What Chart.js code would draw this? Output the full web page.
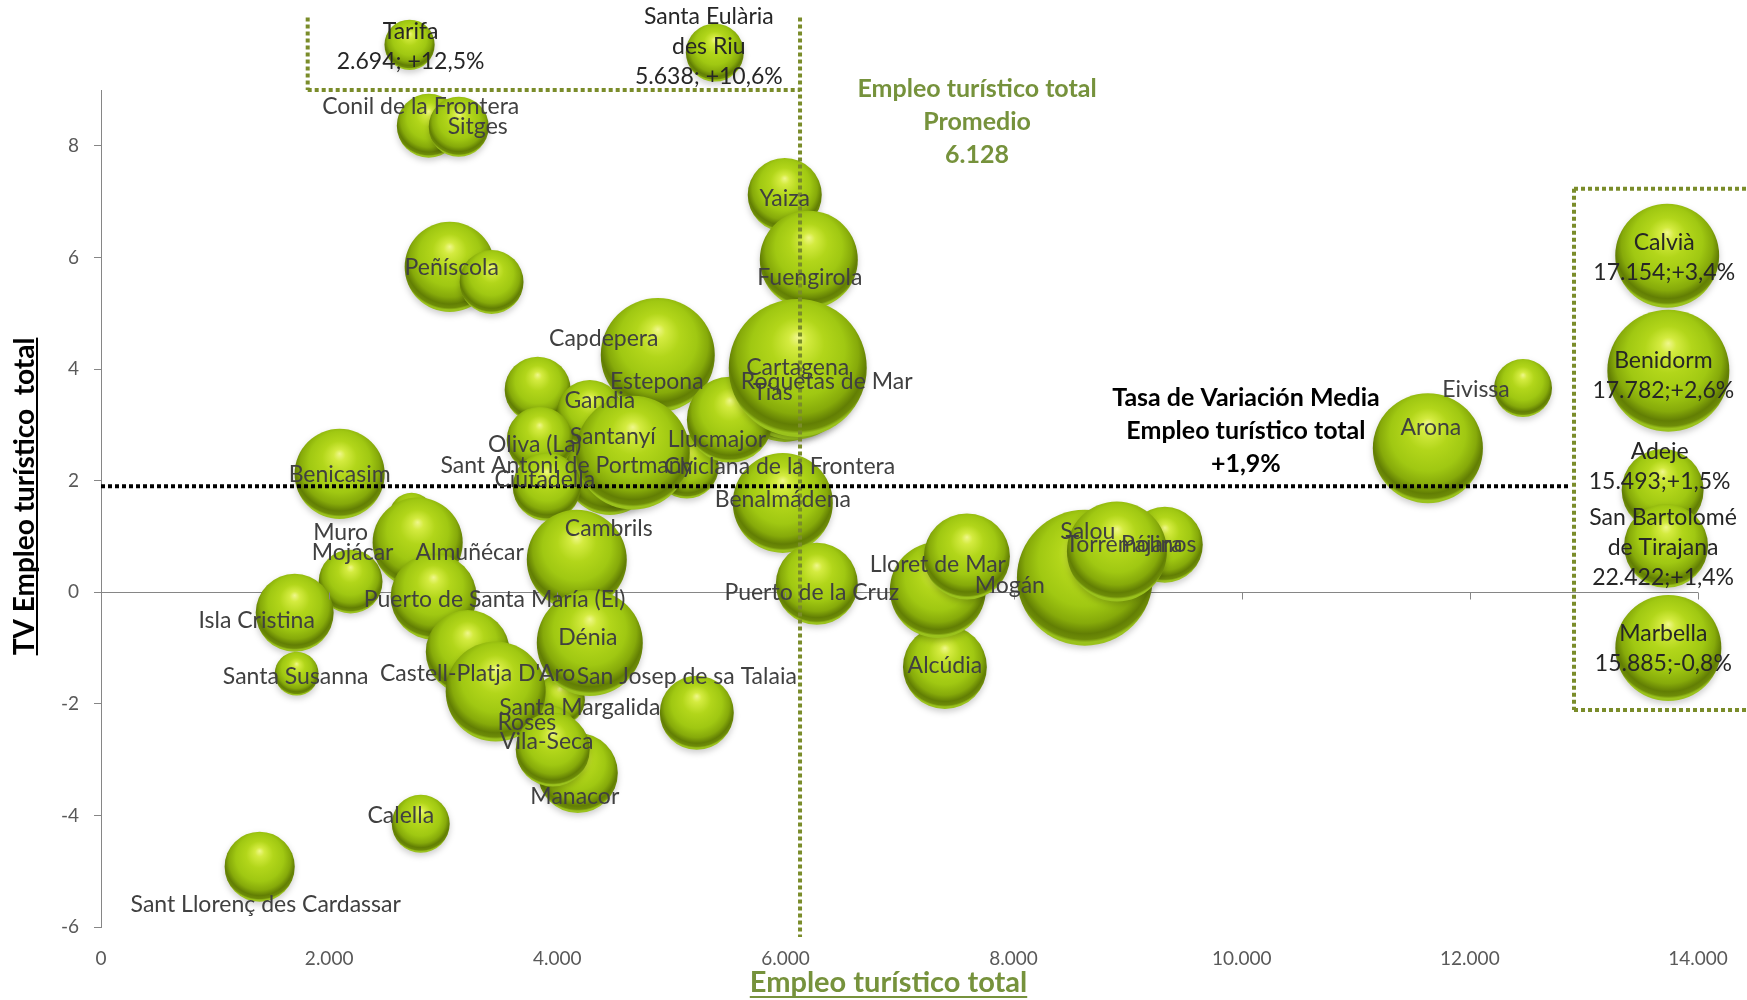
<!DOCTYPE html>
<html>
<head>
<meta charset="utf-8">
<title>Empleo turístico total</title>
<script src="https://cdn.jsdelivr.net/npm/chart.js@4/dist/chart.umd.min.js"></script>
<style>
	html, body { margin: 0; padding: 0; background: #ffffff; }
	#grafico { display: block; }
</style>
</head>
<body>
<canvas id="grafico" width="1747" height="1000"></canvas>
<script>
// Municipios dentro del rango del gráfico (orden de dibujo: los de atrás primero)
var municipios = [
	"Capdepera", "Tías", "Roquetas de Mar", "Sant Antoni de Portmany", "Chiclana de la Frontera",
	"Santa Margalida", "Roses", "Muro", "Conil de la Frontera", "Sitges",
	"Peñíscola", "", "Yaiza", "Fuengirola", "Estepona",
	"Llucmajor", "Cartagena", "", "Gandia", "Oliva (La)",
	"Ciutadella", "Santanyí", "Benalmádena", "Benicasim", "Mojácar",
	"Almuñécar", "Puerto de Santa María (El)", "Cambrils", "Isla Cristina", "Santa Susanna",
	"", "Castell-Platja D'Aro", "Dénia", "San Josep de sa Talaia", "Manacor",
	"Vila-Seca", "Calella", "Sant Llorenç des Cardassar", "Puerto de la Cruz", "Alcúdia",
	"Mogán", "Lloret de Mar", "Salou", "Pájara", "Torremolinos",
	"Arona", "Eivissa"
];
var empleoTuristico = [
	4723, 5995, 6064, 4460, 5135,
	4022, 3917, 2723, 2873, 3136,
	3057, 3424, 5994, 6205, 4881,
	5513, 6108, 3828, 4285, 3846,
	3908, 4662, 5977, 2092, 2188,
	2776, 2916, 4171, 1698, 1715,
	3215, 3460, 4285, 5223, 4180,
	3960, 2803, 1391, 6275, 7398,
	7336, 7591, 8625, 9326, 8906,
	11632, 12466
];
var tvEmpleo = [
	4.34, 3.59, 3.86, 2.19, 2.25,
	-1.93, -2.56, 1.39, 8.36, 8.34,
	5.83, 5.56, 7.12, 5.96, 4.25,
	3.09, 4.02, 3.63, 3.21, 2.73,
	1.89, 2.50, 1.60, 2.12, 0.19,
	0.89, -0.08, 0.58, -0.37, -1.46,
	-1.07, -1.78, -0.91, -2.16, -3.24,
	-2.82, -4.15, -4.92, 0.15, -1.34,
	0.04, 0.64, 0.26, 0.85, 0.73,
	2.58, 3.66
];
// tamaño relativo de la burbuja (proporcional al área)
var tamanoBurbuja = [
	12.3, 25.0, 39.7, 20.3, 10.2,
	6.3, 9.0, 4.8, 10.2, 9.0,
	20.3, 10.2, 13.7, 24.0, 32.5,
	18.5, 47.6, 10.9, 10.9, 10.9,
	11.6, 32.5, 25.0, 20.3, 10.2,
	20.3, 18.5, 25.0, 15.2, 4.8,
	17.6, 25.0, 28.1, 13.7, 16.0,
	13.7, 8.4, 12.3, 16.8, 17.6,
	23.0, 18.5, 46.2, 14.4, 25.0,
	30.3, 8.4
];

// Municipios fuera de rango, recolocados en los recuadros
var destacados = ["Tarifa", "Santa Eulària des Riu", "Calvià", "Benidorm", "Adeje", "San Bartolomé de Tirajana", "Marbella"];
var empleoDestacados = [2694, 5638, 17154, 17782, 15493, 22422, 15885];
var tvDestacados = [12.5, 10.6, 3.4, 2.6, 1.5, 1.4, -0.8];
var posXDestacados = [2705, 5381, 13730, 13740, 13690, 13720, 13740];
var posYDestacados = [9.81, 9.67, 6.03, 3.97, 1.83, 0.83, -1.0];
var tamanoDestacados = [6.3, 8.4, 27.0, 37.2, 16.8, 17.6, 28.1];

var promedioEmpleo = 6128;
var tasaMedia = 1.9;

var ticksX = { min: 0, max: 14000, paso: 2000 };
var ticksY = { min: -6, max: 9, paso: 2 };

// ---- maquetación (no son datos) ----
var desplazamientos = {
	"Capdepera": [-36, -11], "Tías": [-12, 1], "Roquetas de Mar": [34, 5],
	"Sant Antoni de Portmany": [-43, -4], "Chiclana de la Frontera": [93, 0],
	"Santa Margalida": [20, 8], "Roses": [-21, -12], "Muro": [-71, 18],
	"Conil de la Frontera": [-8, -19], "Sitges": [19, 0], "Peñíscola": [2, 1],
	"Yaiza": [0, 4], "Fuengirola": [1, 18], "Estepona": [-1, 27],
	"Llucmajor": [-13, 20], "Cartagena": [0, 0], "Gandia": [10, -13],
	"Oliva (La)": [-5, 5], "Ciutadella": [-2, -7], "Santanyí": [-20, -16],
	"Benalmádena": [0, -3], "Benicasim": [0, 1], "Mojácar": [2, -29],
	"Almuñécar": [52, 10], "Puerto de Santa María (El)": [61, 3], "Cambrils": [32, -31],
	"Isla Cristina": [-38, 8], "Santa Susanna": [-1, 3], "Castell-Platja D'Aro": [-18, -18],
	"Dénia": [-2, -5], "San Josep de sa Talaia": [-10, -36], "Manacor": [-3, 24],
	"Vila-Seca": [-6, -8], "Calella": [-20, -8], "Sant Llorenç des Cardassar": [6, 38],
	"Puerto de la Cruz": [-5, 9], "Alcúdia": [0, -1], "Mogán": [72, -4],
	"Lloret de Mar": [-29, 8], "Salou": [3, -46], "Pájara": [-13, 0],
	"Torremolinos": [14, -7], "Arona": [3, -21], "Eivissa": [-47, 2],
	"Tarifa": [1, 2], "Santa Eulària des Riu": [-6, -6], "Calvià": [-3, 2],
	"Benidorm": [-5, 5], "Adeje": [-3, -24], "San Bartolomé de Tirajana": [-3, 2],
	"Marbella": [-5, 1]
};
var lineasNombre = {
	"Santa Eulària des Riu": ["Santa Eulària", "des Riu"],
	"San Bartolomé de Tirajana": ["San Bartolomé", "de Tirajana"]
};

var FUENTE = "Lato, 'Open Sans', sans-serif";
var OLIVA = "#7a8c2a";
var VERDE_TEXTO = "#76923c";

var formatMiles = function (n) {
	return String(Math.round(n)).replace(/\B(?=(\d{3})+(?!\d))/g, ".");
};

var formatTasa = function (v) {
	return (v > 0 ? "+" : "") + v.toFixed(1).replace(".", ",") + "%";
};

var radio = function (t) {
	return 10 * Math.sqrt(t);
};

// degradado esférico parecido al de las burbujas 3D de Excel
var colorBurbuja = function (context) {
	var chart = context.chart;
	var raw = context.raw;
	if (!raw || !chart.scales.x || !chart.scales.y) {
		return "#9cc400";
	}
	var cx = chart.scales.x.getPixelForValue(raw.x);
	var cy = chart.scales.y.getPixelForValue(raw.y);
	var r = raw.r;
	if (!isFinite(cx) || !isFinite(cy) || !isFinite(r) || r <= 0) {
		return "#9cc400";
	}
	var g = chart.ctx.createRadialGradient(cx, cy - r * 0.45, 0, cx, cy - r * 0.15, r * 1.1);
	g.addColorStop(0, "#f0f78c");
	g.addColorStop(0.12, "#d4eb40");
	g.addColorStop(0.35, "#b2d61a");
	g.addColorStop(0.62, "#a0c812");
	g.addColorStop(0.8, "#86aa0a");
	g.addColorStop(0.91, "#627e04");
	g.addColorStop(0.97, "#6e8c08");
	g.addColorStop(1, "#9ac21c");
	return g;
};

var puntos = municipios.map(function (n, i) {
	return { x: empleoTuristico[i], y: tvEmpleo[i], r: radio(tamanoBurbuja[i]) };
});

var puntosDestacados = destacados.map(function (n, i) {
	return { x: posXDestacados[i], y: posYDestacados[i], r: radio(tamanoDestacados[i]) };
});

var lineaPunteada = function (ctx, x1, y1, x2, y2, color) {
	ctx.beginPath();
	ctx.strokeStyle = color;
	ctx.lineWidth = 4;
	ctx.setLineDash([4, 3]);
	ctx.moveTo(x1, y1);
	ctx.lineTo(x2, y2);
	ctx.stroke();
};

var sombras = {
	id: "sombras",
	beforeDatasetsDraw: function (chart) {
		var ctx = chart.ctx;
		ctx.save();
		ctx.shadowColor = "rgba(0, 0, 0, 0.2)";
		ctx.shadowBlur = 6;
		ctx.shadowOffsetY = 3;
	},
	afterDatasetsDraw: function (chart) {
		chart.ctx.restore();
	}
};

// las burbujas recolocadas quedan fuera del área: se amplía el área solo mientras se dibujan
var fueraDeArea = {
	id: "fueraDeArea",
	beforeDatasetDraw: function (chart, args) {
		if (args.index === 1) {
			this._area = { top: chart.chartArea.top, right: chart.chartArea.right };
			chart.chartArea.top = 0;
			chart.chartArea.right = chart.width;
		}
	},
	afterDatasetDraw: function (chart, args) {
		if (args.index === 1 && this._area) {
			chart.chartArea.top = this._area.top;
			chart.chartArea.right = this._area.right;
		}
	}
};

var anotaciones = {
	id: "anotaciones",
	afterDatasetsDraw: function (chart) {
		var ctx = chart.ctx;
		var x = chart.scales.x;
		var y = chart.scales.y;
		var area = chart.chartArea;

		ctx.save();

		// marcas del eje horizontal sobre la línea del cero
		ctx.strokeStyle = "#868686";
		ctx.lineWidth = 1;
		ctx.setLineDash([]);
		x.ticks.forEach(function (t) {
			var px = Math.round(x.getPixelForValue(t.value)) + 0.5;
			var y0 = Math.round(y.getPixelForValue(0)) + 0.5;
			ctx.beginPath();
			ctx.moveTo(px, y0);
			ctx.lineTo(px, y0 + 7);
			ctx.stroke();
		});

		var cajaDerX = x.getPixelForValue(12913);
		var cajaArr = y.getPixelForValue(10.3);

		// promedio empleo y recuadro superior
		var pxProm = x.getPixelForValue(promedioEmpleo);
		lineaPunteada(ctx, pxProm, cajaArr, pxProm, area.bottom + 10, OLIVA);
		var pxCaja = x.getPixelForValue(1812);
		lineaPunteada(ctx, pxCaja, cajaArr, pxCaja, y.getPixelForValue(9), OLIVA);
		lineaPunteada(ctx, pxCaja, y.getPixelForValue(9), pxProm, y.getPixelForValue(9), OLIVA);

		// tasa media
		var pyTasa = y.getPixelForValue(tasaMedia);
		lineaPunteada(ctx, x.getPixelForValue(0), pyTasa, cajaDerX - 3, pyTasa, "#000000");

		// recuadro derecho
		var top = y.getPixelForValue(7.23);
		var bot = y.getPixelForValue(-2.11);
		lineaPunteada(ctx, cajaDerX, top, cajaDerX, bot, OLIVA);
		lineaPunteada(ctx, cajaDerX, top, chart.width, top, OLIVA);
		lineaPunteada(ctx, cajaDerX, bot, chart.width, bot, OLIVA);

		ctx.setLineDash([]);
		ctx.textAlign = "center";
		ctx.textBaseline = "middle";

		// textos de promedio
		ctx.font = "bold 25px " + FUENTE;
		ctx.fillStyle = VERDE_TEXTO;
		var tx = x.getPixelForValue(7680);
		["Empleo turístico total", "Promedio", formatMiles(promedioEmpleo)].forEach(function (l, i) {
			ctx.fillText(l, tx, 89 + i * 33);
		});
		ctx.fillStyle = "#000000";
		var tx2 = x.getPixelForValue(10037);
		["Tasa de Variación Media", "Empleo turístico total", formatTasa(tasaMedia)].forEach(function (l, i) {
			ctx.fillText(l, tx2, 398 + i * 33);
		});

		// etiquetas de las burbujas
		ctx.font = "23px " + FUENTE;
		ctx.fillStyle = "#404040";
		chart.getDatasetMeta(0).data.forEach(function (el, i) {
			var n = municipios[i];
			if (!n) {
				return;
			}
			var d = desplazamientos[n] || [0, 0];
			ctx.fillText(n, el.x + d[0], el.y + d[1]);
		});

		ctx.fillStyle = "#262626";
		chart.getDatasetMeta(1).data.forEach(function (el, i) {
			var n = destacados[i];
			var sep = i < 2 ? " " : "";
			var lineas = (lineasNombre[n] || [n]).concat([formatMiles(empleoDestacados[i]) + ";" + sep + formatTasa(tvDestacados[i])]);
			var d = desplazamientos[n] || [0, 0];
			var y0 = el.y + d[1] - (lineas.length - 1) * 30 / 2;
			lineas.forEach(function (l, k) {
				ctx.fillText(l, el.x + d[0], y0 + k * 30);
			});
		});

		ctx.restore();
	},
	afterDraw: function (chart) {
		var ctx = chart.ctx;
		var area = chart.chartArea;
		ctx.save();
		ctx.textAlign = "center";
		ctx.textBaseline = "middle";

		// título eje Y
		var ty = "TV Empleo turístico  total";
		ctx.font = "bold 28px " + FUENTE;
		ctx.fillStyle = "#000000";
		ctx.translate(25, area.top + (area.bottom - area.top) / 2 - 12);
		ctx.rotate(-Math.PI / 2);
		ctx.fillText(ty, 0, 0);
		var w = ctx.measureText(ty).width;
		ctx.fillRect(-w / 2, 11, w, 2);
		ctx.setTransform(1, 0, 0, 1, 0, 0);

		// título eje X
		var tx = "Empleo turístico total";
		ctx.font = "bold 29px " + FUENTE;
		ctx.fillStyle = VERDE_TEXTO;
		var cx = (area.left + area.right) / 2 - 11;
		ctx.fillText(tx, cx, 983);
		var w2 = ctx.measureText(tx).width;
		ctx.fillRect(cx - w2 / 2, 996, w2, 2);
		ctx.restore();
	}
};

var dibujar = function () {
	new Chart(document.getElementById("grafico"), {
		type: "bubble",
		data: {
			datasets: [
				{
					label: "Municipios",
					data: puntos,
					backgroundColor: colorBurbuja,
					borderWidth: 0,
					clip: false,
				},
				{
					label: "Destacados",
					data: puntosDestacados,
					backgroundColor: colorBurbuja,
					borderWidth: 0,
					clip: false,
				},
			],
		},
		options: {
			responsive: false,
			animation: false,
			events: [],
			devicePixelRatio: 1,
			layout: {
				autoPadding: false,
				padding: { top: 90, right: 49, bottom: 0, left: 0 },
			},
			plugins: {
				legend: { display: false },
				tooltip: { enabled: false },
			},
			scales: {
				x: {
					type: "linear",
					min: ticksX.min,
					max: ticksX.max,
					border: { display: false },
					grid: { display: false, drawTicks: false },
					ticks: {
						stepSize: ticksX.paso,
						padding: 20,
						maxRotation: 0,
						color: "#595959",
						font: { family: FUENTE, size: 19 },
						callback: function (v) {
							return formatMiles(v);
						},
					},
					afterFit: function (s) {
						s.height = 73;
						s.paddingLeft = 0;
						s.paddingRight = 0;
					},
				},
				y: {
					type: "linear",
					min: ticksY.min,
					max: ticksY.max,
					border: { color: "#868686", width: 1 },
					grid: {
						color: function (c) {
							return c.tick && c.tick.value === 0 ? "#868686" : "rgba(0,0,0,0)";
						},
						tickColor: "#868686",
						tickLength: 7,
					},
					ticks: {
						stepSize: ticksY.paso,
						padding: 15,
						color: "#595959",
						font: { family: FUENTE, size: 19 },
					},
					afterBuildTicks: function (s) {
						s.ticks = s.ticks.filter(function (t) {
							return Number.isInteger(t.value / ticksY.paso);
						});
					},
					afterFit: function (s) {
						s.width = 101;
					},
				},
			},
		},
		plugins: [sombras, fueraDeArea, anotaciones],
	});
};

Promise.all([
	document.fonts.load("22px Lato"),
	document.fonts.load("bold 24px Lato"),
]).then(dibujar, dibujar);
</script>
</body>
</html>
